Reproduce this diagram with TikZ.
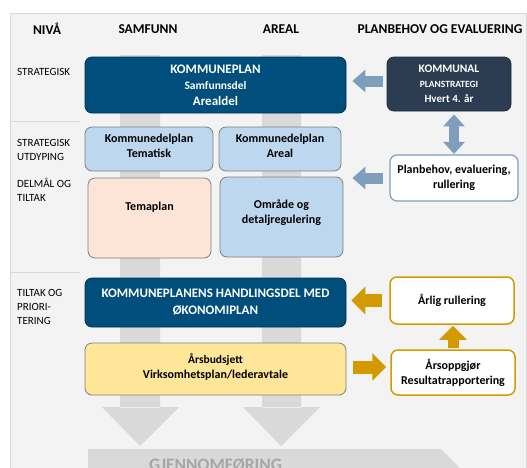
\documentclass[tikz,border=0pt]{standalone}
\usepackage{fontspec}
\setmainfont{Carlito}
\usetikzlibrary{arrows.meta,calc}
\definecolor{panel}{HTML}{F3F3F3}
\definecolor{panelline}{HTML}{D9D9D9}
\definecolor{barcol}{HTML}{D9D9D9}
\definecolor{darkblue}{HTML}{004E7C}
\definecolor{slate}{HTML}{2C3D52}
\definecolor{lightblue}{HTML}{BDD7EE}
\definecolor{peach}{HTML}{FCE4D6}
\definecolor{yellowbox}{HTML}{FFE699}
\definecolor{gold}{HTML}{D39A00}
\definecolor{steel}{HTML}{7F9DBD}
\definecolor{gjtext}{HTML}{A6A6A6}
\definecolor{boxline}{HTML}{7F7F7F}
\begin{document}
\begin{tikzpicture}[x=1pt,y=-1pt,
  box/.style={rounded corners=7pt, line width=0.8pt, align=center, inner sep=0pt,
    font=\bfseries\fontsize{12}{15}\selectfont},
  darkbox/.style={box, fill=darkblue, draw=darkblue!60!black, text=white},
  slatebox/.style={box, fill=slate, draw=slate!70!black, text=white},
  bluebox/.style={box, fill=lightblue, draw=boxline},
  peachbox/.style={box, fill=peach, draw=boxline},
  yellbox/.style={box, fill=yellowbox, draw=boxline},
  steelbox/.style={box, fill=white, draw=steel, line width=1.2pt},
  goldbox/.style={box, fill=white, draw=gold, line width=1.5pt},
  header/.style={font=\bfseries\fontsize{13.5}{16}\selectfont, inner sep=0pt},
  lvl/.style={font=\fontsize{11}{14}\selectfont, align=left, inner sep=0pt, anchor=west},
  steelarr/.style={draw=steel, line width=11pt, -{Triangle[length=13pt,width=22pt]}},
  steeldbl/.style={draw=steel, line width=10pt, {Triangle[length=12pt,width=21pt]}-{Triangle[length=12pt,width=21pt]}},
  goldarr/.style={draw=gold, line width=13pt, -{Triangle[length=14pt,width=27pt]}},
]
\useasboundingbox (0,0) rectangle (527,467);
\clip (0,0) rectangle (527,467);
% panel
\fill[panel] (10,13) rectangle (526,480);
\draw[panelline, line width=0.8pt] (10,480) -- (10,13) -- (526,13) -- (526,480);
% separators
\draw[panelline, line width=0.8pt] (10,121.5) -- (80,121.5);
\draw[panelline, line width=0.8pt] (10,272) -- (80,272);
% vertical gray bars with arrowheads
\fill[barcol] (120,55) rectangle (160,408) (102,407) -- (179,407) -- (140,446) -- cycle;
\fill[barcol] (262,55) rectangle (301,408) (243,407) -- (320,407) -- (281,446) -- cycle;
% execution chevron
\fill[barcol] (88,449) -- (441,449) -- (481,489) -- (88,489) -- cycle;
\node[anchor=base west, inner sep=0pt, text=gjtext, font=\bfseries\fontsize{17.5}{20}\selectfont] (gj) at (149,470.5) {GJENNOMFØRING};
% headers
\node[header] (hniva) at (47,29) {NIVÅ};
\node[header] (hsam) at (148,29) {SAMFUNN};
\node[header] (hare) at (281,29) {AREAL};
\node[header] (hplan) at (440,29) {PLANBEHOV OG EVALUERING};
% level labels
\node[lvl] (l1) at (17,72) {STRATEGISK};
\node[lvl] (l2) at (17,150) {STRATEGISK\\UTDYPING};
\node[lvl] (l3) at (17,190) {DELMÅL OG\\TILTAK};
\node[lvl] (l4) at (17,307) {TILTAK OG\\PRIORI-\\TERING};
% boxes
\node[darkbox, minimum width=261pt, minimum height=56pt] (kp) at (215.5,85)
  {{\fontsize{13}{16}\selectfont KOMMUNEPLAN}\\[1pt]{\fontsize{11.5}{14}\selectfont Samfunnsdel}\\[1pt]{\fontsize{13}{16}\selectfont Arealdel}};
\node[slatebox, minimum width=124pt, minimum height=54pt] (ps) at (449,84)
  {{\fontsize{11.5}{15}\selectfont KOMMUNAL}\\{\fontsize{9.5}{15}\selectfont PLANSTRATEGI}\\{\fontsize{11}{15}\selectfont Hvert 4. år}};
\node[bluebox, minimum width=128pt, minimum height=44pt, text depth=6pt] (kdt) at (149,149) {Kommunedelplan\\Tematisk};
\node[bluebox, minimum width=122pt, minimum height=44pt, text depth=6pt] (kda) at (280,149) {Kommunedelplan\\Areal};
\node[peachbox, minimum width=123pt, minimum height=80pt,
  label={[font=\bfseries\fontsize{12}{15}\selectfont, yshift=11pt]center:Temaplan}] (tema) at (149.5,218) {};
\node[bluebox, minimum width=123pt, minimum height=80pt, text depth=10pt] (omr) at (281.5,217) {Område og\\detaljregulering};
\node[steelbox, minimum width=128pt, minimum height=46pt] (pb) at (454,178) {Planbehov, evaluering,\\rullering};
\node[darkbox, minimum width=261pt, minimum height=49pt, font=\bfseries\fontsize{13}{17}\selectfont] (hd) at (215.5,302.5)
  {KOMMUNEPLANENS HANDLINGSDEL MED\\ØKONOMIPLAN};
\node[yellbox, minimum width=261pt, minimum height=52pt, text depth=6pt] (ab) at (215.5,369)
  {{\fontsize{11.5}{15}\selectfont Årsbudsjett}\\Virksomhetsplan/lederavtale};
\node[goldbox, minimum width=124pt, minimum height=47pt] (ar) at (452,300.5) {Årlig rullering};
\node[goldbox, minimum width=124pt, minimum height=45pt] (ao) at (453,372.5) {Årsoppgjør\\Resultatrapportering};
% arrows
\draw[steelarr, shorten <=4pt, shorten >=6pt] ([yshift=3pt]ps.west) -- ([yshift=3pt]ps.west -| kp.east);
\draw[steeldbl, shorten <=0.5pt, shorten >=3pt] (pb.north) -- (pb.north |- ps.south);
\draw[steelarr, shorten <=6pt, shorten >=9pt] (pb.west) -- (pb.west -| omr.east);
\draw[goldarr, shorten <=7pt, shorten >=5pt] (ar.west) -- (ar.west -| hd.east);
\draw[goldarr, line width=11pt, shorten <=1pt, shorten >=1pt] (ao.north) -- (ao.north |- ar.south);
\draw[goldarr, shorten <=7pt, shorten >=4pt] ([yshift=2pt]ab.east) -- ([yshift=2pt]ab.east -| ao.west);
\end{tikzpicture}
\end{document}
